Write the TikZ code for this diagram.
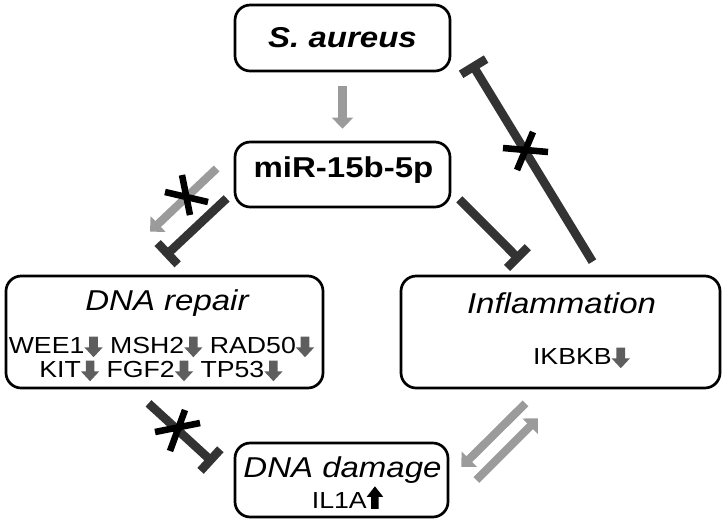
\documentclass[tikz,border=0pt]{standalone}
\usepackage{fontspec}
\setmainfont{Liberation Sans}[FakeStretch=1.15]
\usetikzlibrary{arrows.meta}
\definecolor{lineDark}{HTML}{333333}
\definecolor{arrowLight}{HTML}{9B9B9B}
\definecolor{geneGray}{HTML}{5E5E5E}

\newcommand{\titlesize}{\fontsize{24.5}{28}\selectfont}
\newcommand{\genesize}{\fontsize{19.8}{24}\selectfont}
% small gene arrows after the gene names
\newcommand{\genedown}{\tikz[baseline=0pt,x=1pt,y=1pt]\fill[geneGray] (-3.7,14) -- (3.7,14) -- (3.7,4.8) -- (7.8,4.8) -- (0,-3.6) -- (-7.8,4.8) -- (-3.7,4.8) -- cycle;}
\newcommand{\geneup}{\tikz[baseline=0pt,x=1pt,y=1pt]\fill[black] (-3.2,-0.8) -- (3.2,-0.8) -- (3.2,9.6) -- (7,9.6) -- (0,18.5) -- (-7,9.6) -- (-3.2,9.6) -- cycle;}

\begin{document}
\begin{tikzpicture}[x=0.03cm,y=-0.03cm,
    box/.style={draw, line width=2.3pt, rounded corners=13pt, inner sep=0pt},
    title/.style={anchor=base, inner sep=0pt, font=\titlesize},
    genes/.style={anchor=base, inner sep=0pt, font=\genesize},
    inhib/.style={draw=lineDark, line width=7.4pt, -{Bar[width=25pt]}},
    activ/.style={draw=arrowLight, line width=7pt, -{Triangle[width=18pt,length=9.5pt]}},
    xmark/.style={draw=black, line width=5.6pt}]
    \useasboundingbox (0,0) rectangle (725,523);

    % Boxes
    \node[box, minimum width=6.45cm, minimum height=1.98cm] (saur) at (342.5,38) {};
    \node[box, minimum width=6.45cm, minimum height=1.95cm] (mir) at (342.5,174.5) {};
    \node[box, minimum width=9.51cm, minimum height=3.36cm] (repair) at (164.5,332) {};
    \node[box, minimum width=9.57cm, minimum height=3.36cm] (infl) at (560.5,332) {};
    \node[box, minimum width=6.39cm, minimum height=2.22cm] (damage) at (341.5,480) {};

    % Texts
    \node[title, font=\titlesize\bfseries\itshape] (saurText) at (342.5,47) {S. aureus};
    \node[title, font=\titlesize\bfseries] (mirText) at (343.5,177) {miR-15b-5p};
    \node[title, font=\titlesize\itshape] (repairText) at (167,310) {DNA repair};
    \node[genes] (repairRowA) at (161.5,353) {WEE1\genedown{} MSH2\genedown{} RAD50\genedown};
    \node[genes] (repairRowB) at (161,377) {KIT\genedown{} FGF2\genedown{} TP53\genedown};
    \node[title, font=\titlesize\itshape] (inflText) at (561.5,313) {Inflammation};
    \node[genes] (inflRow) at (581.5,364) {IKBKB\genedown};
    \node[title, font=\titlesize\itshape] (damageText) at (342.5,477) {DNA damage};
    \node[genes] (damageRow) at (347.5,508) {IL1A\geneup};

    % Activation arrows
    \draw[activ] ([shift={(0,14)}]saur.south) -- ([shift={(0,-12)}]mir.north);
    \draw[activ] ([shift={(-17,-6)}]mir.west) -- ([shift={(-14.5,-43)}]repair.north);
    \draw[activ] ([shift={(-35,14)}]infl.south) -- ([shift={(12,-13)}]damage.east);
    \draw[activ] ([shift={(27,0)}]damage.east) -- ([shift={(-22.5,29)}]infl.south);

    % Inhibition lines
    \draw[inhib] ([shift={(-7,-10)}]mir.south west) -- ([shift={(0,-18)}]repair.north);
    \draw[inhib] ([shift={(8,-9)}]mir.south east) -- ([shift={(-40,-14)}]infl.north);
    \draw[inhib] ([shift={(32,-13)}]infl.north) -- ([shift={(20,25)}]saur.east);
    \draw[inhib] ([shift={(-16,14)}]repair.south) -- ([shift={(-20,-17)}]damage.west);

    % Crosses
    \draw[xmark] (165,192) -- (208,202) (182,175) -- (190,215);
    \draw[xmark] (503,148) -- (548,152) (533,132) -- (517,170);
    \draw[xmark] (155,432) -- (200,423) (185,410) -- (170,451);
\end{tikzpicture}
\end{document}
